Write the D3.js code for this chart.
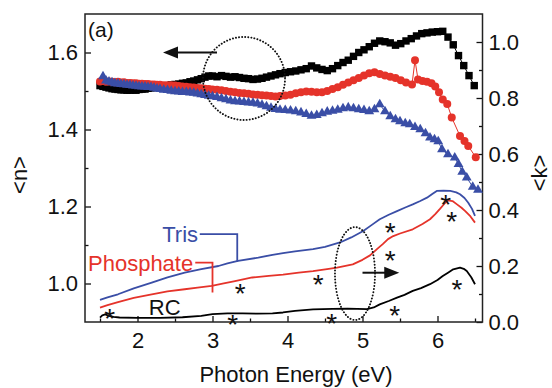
<!DOCTYPE html>
<html><head><meta charset="utf-8">
<script src="https://cdn.jsdelivr.net/npm/d3@7"></script>
<style>body{margin:0;background:#fff}svg{display:block}text{font-family:"Liberation Sans",Arial,sans-serif}</style>
</head><body><svg id="c" width="552" height="388"></svg>
<script>
// ---- data ----
const xMajorTicks=[2,3,4,5,6];
const xMinorTicks=[1.5,2.5,3.5,4.5,5.5,6.5];
const nMajorTicks=[1.0,1.2,1.4,1.6];
const nMinorTicks=[1.1,1.3,1.5];
const kMajorTicks=[0,0.2,0.4,0.6,0.8,1.0];
const kMinorTicks=[0.1,0.3,0.5,0.7,0.9];

// <n> (left axis), markers: [E, n]
const nRC=[[1.50,1.514],[1.54,1.512],[1.58,1.510],[1.62,1.508],[1.66,1.506],[1.70,1.505],[1.74,1.504],[1.78,1.503],[1.82,1.503],[1.86,1.502],[1.90,1.502],[1.94,1.503],[1.98,1.502],[2.02,1.504],[2.06,1.505],[2.10,1.505],[2.14,1.507],[2.18,1.508],[2.22,1.509],[2.26,1.510],[2.30,1.511],[2.35,1.513],[2.40,1.514],[2.45,1.516],[2.50,1.517],[2.55,1.518],[2.60,1.520],[2.65,1.521],[2.70,1.524],[2.75,1.526],[2.80,1.529],[2.85,1.532],[2.90,1.536],[2.95,1.539],[3.00,1.539],[3.06,1.537],[3.12,1.540],[3.18,1.538],[3.24,1.536],[3.30,1.537],[3.36,1.535],[3.42,1.533],[3.48,1.532],[3.54,1.530],[3.60,1.531],[3.66,1.533],[3.72,1.536],[3.78,1.539],[3.84,1.542],[3.90,1.545],[3.97,1.548],[4.04,1.550],[4.11,1.552],[4.18,1.555],[4.25,1.558],[4.32,1.565],[4.39,1.560],[4.46,1.556],[4.53,1.553],[4.60,1.558],[4.67,1.566],[4.74,1.574],[4.81,1.580],[4.88,1.590],[4.95,1.600],[5.02,1.607],[5.09,1.615],[5.16,1.624],[5.23,1.630],[5.30,1.628],[5.37,1.625],[5.44,1.619],[5.51,1.623],[5.58,1.630],[5.65,1.636],[5.72,1.643],[5.79,1.649],[5.86,1.651],[5.93,1.653],[6.00,1.654],[6.07,1.655],[6.14,1.640],[6.21,1.620],[6.28,1.592],[6.35,1.566],[6.42,1.540],[6.49,1.514]];
const nPhosphate=[[1.50,1.525],[1.54,1.526],[1.58,1.524],[1.62,1.525],[1.66,1.524],[1.70,1.523],[1.74,1.524],[1.78,1.522],[1.82,1.523],[1.86,1.521],[1.90,1.521],[1.94,1.520],[1.98,1.520],[2.02,1.519],[2.06,1.519],[2.10,1.518],[2.14,1.518],[2.18,1.517],[2.22,1.517],[2.26,1.516],[2.30,1.516],[2.35,1.515],[2.40,1.515],[2.45,1.515],[2.50,1.514],[2.55,1.513],[2.60,1.512],[2.65,1.511],[2.70,1.510],[2.75,1.509],[2.80,1.508],[2.85,1.507],[2.90,1.506],[2.95,1.505],[3.00,1.504],[3.06,1.503],[3.12,1.502],[3.18,1.500],[3.24,1.498],[3.30,1.497],[3.36,1.495],[3.42,1.494],[3.48,1.493],[3.54,1.491],[3.60,1.490],[3.66,1.489],[3.72,1.488],[3.78,1.487],[3.84,1.486],[3.90,1.487],[3.97,1.488],[4.04,1.490],[4.11,1.494],[4.18,1.497],[4.25,1.499],[4.32,1.498],[4.39,1.497],[4.46,1.497],[4.53,1.500],[4.60,1.505],[4.67,1.510],[4.74,1.516],[4.81,1.522],[4.88,1.528],[4.95,1.534],[5.02,1.540],[5.09,1.546],[5.16,1.549],[5.23,1.544],[5.30,1.540],[5.37,1.537],[5.44,1.534],[5.51,1.528],[5.58,1.522],[5.66,1.517],[5.70,1.580],[5.74,1.530],[5.80,1.526],[5.86,1.524],[5.92,1.520],[5.97,1.512],[6.02,1.497],[6.07,1.478],[6.13,1.466],[6.19,1.431],[6.30,1.383],[6.36,1.370],[6.41,1.357],[6.51,1.328]];
const nTris=[[1.54,1.538],[1.58,1.527],[1.62,1.524],[1.66,1.522],[1.70,1.520],[1.74,1.519],[1.78,1.518],[1.82,1.517],[1.86,1.516],[1.90,1.515],[1.94,1.514],[1.98,1.513],[2.02,1.512],[2.06,1.511],[2.10,1.511],[2.14,1.510],[2.18,1.510],[2.22,1.508],[2.26,1.506],[2.30,1.505],[2.35,1.503],[2.40,1.502],[2.45,1.500],[2.50,1.499],[2.55,1.498],[2.60,1.497],[2.65,1.497],[2.70,1.496],[2.75,1.495],[2.80,1.493],[2.85,1.491],[2.90,1.489],[2.95,1.487],[3.00,1.486],[3.06,1.484],[3.12,1.481],[3.18,1.478],[3.24,1.475],[3.30,1.473],[3.36,1.472],[3.42,1.471],[3.48,1.470],[3.54,1.469],[3.60,1.467],[3.66,1.464],[3.72,1.460],[3.78,1.456],[3.84,1.453],[3.90,1.451],[3.97,1.450],[4.04,1.449],[4.11,1.447],[4.18,1.444],[4.25,1.440],[4.32,1.435],[4.39,1.437],[4.46,1.442],[4.53,1.446],[4.60,1.448],[4.67,1.451],[4.74,1.455],[4.81,1.457],[4.88,1.455],[4.95,1.452],[5.02,1.450],[5.09,1.447],[5.16,1.452],[5.23,1.465],[5.30,1.447],[5.37,1.434],[5.44,1.426],[5.50,1.421],[5.57,1.416],[5.63,1.413],[5.70,1.406],[5.77,1.400],[5.84,1.390],[5.90,1.379],[5.96,1.374],[6.01,1.369],[6.06,1.348],[6.14,1.335],[6.23,1.327],[6.28,1.310],[6.33,1.290],[6.39,1.275],[6.47,1.251],[6.54,1.243]];

// <k> (right axis), lines: [E, k]
const kRC=[[1.50,0.016],[1.53,0.024],[1.57,0.027],[1.62,0.022],[1.68,0.018],[1.76,0.016],[2.00,0.015],[2.30,0.015],[2.60,0.017],[2.85,0.022],[3.00,0.028],[3.20,0.031],[3.40,0.031],[3.60,0.030],[3.80,0.031],[3.94,0.034],[4.10,0.040],[4.34,0.045],[4.60,0.047],[4.80,0.048],[5.06,0.046],[5.15,0.052],[5.23,0.063],[5.35,0.075],[5.46,0.087],[5.56,0.097],[5.67,0.111],[5.78,0.121],[5.90,0.135],[6.00,0.150],[6.07,0.164],[6.14,0.176],[6.21,0.188],[6.30,0.194],[6.35,0.190],[6.39,0.182],[6.45,0.160],[6.50,0.135]];
const kPhosphate=[[1.50,0.051],[1.60,0.060],[1.74,0.071],[1.95,0.086],[2.19,0.099],[2.40,0.109],[2.63,0.117],[2.80,0.123],[2.99,0.129],[3.15,0.138],[3.30,0.146],[3.53,0.159],[3.75,0.165],[3.94,0.169],[4.15,0.176],[4.34,0.182],[4.55,0.190],[4.66,0.194],[4.87,0.206],[5.00,0.222],[5.10,0.238],[5.20,0.262],[5.27,0.278],[5.34,0.296],[5.41,0.307],[5.50,0.316],[5.67,0.331],[5.80,0.350],[5.90,0.367],[5.97,0.385],[6.03,0.403],[6.10,0.425],[6.14,0.434],[6.20,0.432],[6.26,0.420],[6.32,0.408],[6.37,0.396],[6.44,0.377],[6.50,0.355]];
const kTris=[[1.50,0.079],[1.60,0.088],[1.74,0.099],[1.95,0.120],[2.19,0.141],[2.40,0.159],[2.63,0.176],[2.85,0.189],[3.08,0.200],[3.20,0.209],[3.34,0.218],[3.61,0.230],[3.80,0.240],[3.94,0.246],[4.10,0.252],[4.34,0.260],[4.50,0.268],[4.70,0.284],[4.85,0.302],[5.01,0.325],[5.12,0.346],[5.23,0.367],[5.35,0.383],[5.46,0.396],[5.57,0.409],[5.67,0.420],[5.77,0.432],[5.86,0.444],[5.93,0.457],[5.99,0.468],[6.08,0.469],[6.17,0.468],[6.25,0.463],[6.30,0.456],[6.36,0.443],[6.41,0.426],[6.46,0.404],[6.50,0.379]];

// asterisk annotations [E, k]
const asterisks=[[1.63,0.036],[3.27,0.013],[3.37,0.125],[4.41,0.157],[4.59,0.016],[5.37,0.243],[5.37,0.343],[5.43,0.046],[6.11,0.443],[6.19,0.382],[6.26,0.139]];
// series labels [text, E, k(baseline)]
const labels=[["Tris",2.33,0.286],["Phosphate",1.34,0.182],["RC",2.15,0.025]];

const BLUE="#3a4ea6", RED="#e5332a", BLACK="#000";
const FONT=22;

const svg=d3.select("#c");
const x=d3.scaleLinear().domain([1.3,6.6]).range([85,482.5]);
const yN=d3.scaleLinear().domain([0.9,1.7]).range([322,14]);
const yK=d3.scaleLinear().domain([0,1.1]).range([322,14]);

// axes
function styleAxis(g){g.select(".domain").remove();g.selectAll("line").attr("stroke","#111").attr("stroke-width",1.3);
 g.selectAll("text").attr("font-size",FONT).attr("fill","#111").attr("font-family","'Liberation Sans',Arial,sans-serif");}
svg.append("g").attr("transform","translate(0,322)").call(d3.axisBottom(x).tickValues(xMajorTicks).tickSize(-6).tickPadding(10).tickFormat(d3.format("d"))).call(styleAxis);
svg.append("g").attr("transform","translate(0,322)").call(d3.axisBottom(x).tickValues(xMinorTicks).tickSize(-3.5).tickFormat("")).call(styleAxis);
svg.append("g").attr("transform","translate(85,0)").call(d3.axisLeft(yN).tickValues(nMajorTicks).tickSize(-6).tickPadding(7).tickFormat(d3.format(".1f"))).call(styleAxis);
svg.append("g").attr("transform","translate(85,0)").call(d3.axisLeft(yN).tickValues(nMinorTicks).tickSize(-3.5).tickFormat("")).call(styleAxis);
svg.append("g").attr("transform","translate(482.5,0)").call(d3.axisRight(yK).tickValues(kMajorTicks).tickSize(-6).tickPadding(6).tickFormat(d3.format(".1f"))).call(styleAxis);
svg.append("g").attr("transform","translate(482.5,0)").call(d3.axisRight(yK).tickValues(kMinorTicks).tickSize(-3.5).tickFormat("")).call(styleAxis);

// frame
svg.append("rect").attr("x",85).attr("y",14).attr("width",397.5).attr("height",308).attr("fill","none").attr("stroke","#222").attr("stroke-width",1.5);

// axis titles
svg.append("text").attr("x",296).attr("y",382).attr("text-anchor","middle").attr("font-size",FONT).attr("fill","#111").text("Photon Energy (eV)");
svg.append("text").attr("transform","translate(27,175) rotate(-90)").attr("text-anchor","middle").attr("font-size",FONT).attr("fill","#111").text("<n>");
svg.append("text").attr("transform","translate(547,173) rotate(-90)").attr("text-anchor","middle").attr("font-size",FONT).attr("fill","#111").text("<k>");
svg.append("text").attr("x",88).attr("y",37).attr("font-size",21).attr("fill","#111").text("(a)");

// k lines
const lineK=d3.line().x(d=>x(d[0])).y(d=>yK(d[1]));
[[kTris,BLUE],[kPhosphate,RED],[kRC,BLACK]].forEach(([d,c])=>{
 svg.append("path").attr("d",lineK(d)).attr("fill","none").attr("stroke",c).attr("stroke-width",1.8).attr("stroke-linejoin","round");
});

// n series with markers
const lineN=d3.line().x(d=>x(d[0])).y(d=>yN(d[1]));
svg.append("path").attr("d",lineN(nRC)).attr("fill","none").attr("stroke",BLACK).attr("stroke-width",1);
svg.append("g").selectAll("rect").data(nRC).join("rect")
 .attr("x",d=>x(d[0])-3.7).attr("y",d=>yN(d[1])-3.7).attr("width",7.4).attr("height",7.4).attr("fill",BLACK);
svg.append("path").attr("d",lineN(nPhosphate)).attr("fill","none").attr("stroke",RED).attr("stroke-width",1);
svg.append("g").selectAll("circle").data(nPhosphate).join("circle")
 .attr("cx",d=>x(d[0])).attr("cy",d=>yN(d[1])).attr("r",4).attr("fill",RED);
svg.append("path").attr("d",lineN(nTris)).attr("fill","none").attr("stroke",BLUE).attr("stroke-width",1);
const tri=d3.symbol(d3.symbolTriangle).size(42);
svg.append("g").selectAll("path").data(nTris).join("path")
 .attr("transform",d=>`translate(${x(d[0])},${yN(d[1])})`).attr("d",tri).attr("fill",BLUE);

// asterisks
svg.append("g").selectAll("text").data(asterisks).join("text")
 .attr("x",d=>x(d[0])).attr("y",d=>yK(d[1])).attr("dy","0.56em").attr("text-anchor","middle")
 .attr("font-size",28).attr("fill","#111").text("*");

// series labels
const labColor={Tris:BLUE,Phosphate:RED,RC:"#111"};
svg.append("g").selectAll("text").data(labels).join("text")
 .attr("x",d=>x(d[1])).attr("y",d=>yK(d[2])).attr("font-size",FONT).attr("fill",d=>labColor[d[0]]).text(d=>d[0]);

// leader lines [E0,E1,kTop,kBottom]
const leaders=[[2.83,3.33,0.314,0.215,BLUE],[2.77,3.00,0.212,0.105,RED]];
leaders.forEach(([e0,e1,k0,k1,c])=>{
 svg.append("path").attr("d",`M${x(e0)},${yK(k0)}H${x(e1)}V${yK(k1)}`).attr("fill","none").attr("stroke",c).attr("stroke-width",1.8);
});

// dotted ellipses
function ellipse(cx,cy,rx,ry){
 svg.append("ellipse").attr("cx",cx).attr("cy",cy).attr("rx",rx).attr("ry",ry).attr("fill","none")
  .attr("stroke","#111").attr("stroke-width",1.9).attr("stroke-dasharray","0.1,3").attr("stroke-linecap","round");
}
ellipse(x(3.42),yN(1.5325),x(3.42+0.547)-x(3.42),yN(1.5325)-yN(1.5325+0.1078));
ellipse(x(4.9),yK(0.173),x(4.9+0.267)-x(4.9),yK(0.173)-yK(0.173+0.166));

// arrows
function arrow(x0,x1,y){
 const dir=Math.sign(x1-x0);
 svg.append("line").attr("x1",x0).attr("x2",x1-dir*12).attr("y1",y).attr("y2",y).attr("stroke","#111").attr("stroke-width",2);
 svg.append("path").attr("d",`M${x1},${y}L${x1-dir*15},${y-6}L${x1-dir*15},${y+6}Z`).attr("fill","#111");
}
arrow(x(3.06),x(2.34),yN(1.60));
arrow(x(5.0),x(5.49),yK(0.176));
</script></body></html>
